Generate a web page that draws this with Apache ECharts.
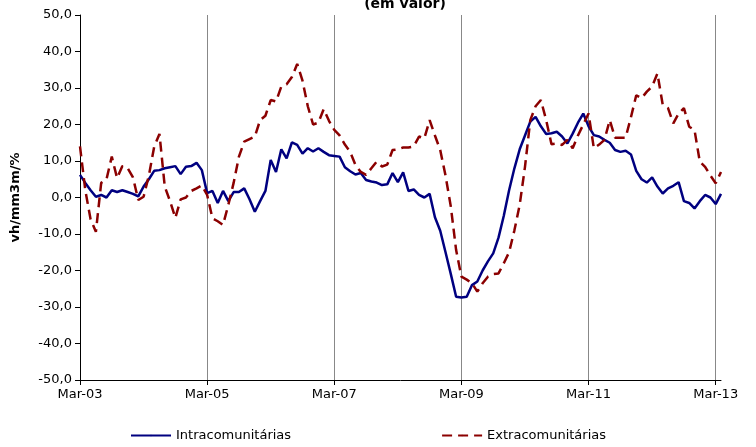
<!DOCTYPE html>
<html><head><meta charset="utf-8">
<script src="https://cdn.jsdelivr.net/npm/echarts@6/dist/echarts.min.js"></script>
<style>html,body{margin:0;padding:0;background:#fff}#c{width:756px;height:447px}</style>
</head><body><div id="c"></div>
<script>
// months Mar-03 .. Apr-13
const months = [];
const mNames = ['Jan','Fev','Mar','Abr','Mai','Jun','Jul','Ago','Set','Out','Nov','Dez'];
for (let i = 0; i < 122; i++) {
  const m = (2 + i) % 12, y = 3 + Math.floor((2 + i) / 12);
  months.push(mNames[m] + '-' + String(y).padStart(2, '0'));
}
const intra = [6.2,4,2,0.2,0.7,0,2,1.5,2,1.5,1,0.3,3,5,7.3,7.5,8,8.3,8.6,6.4,8.4,8.6,9.5,7.5,
  1.2,1.8,-1.5,1.8,-1,1.5,1.5,2.5,-0.5,-3.9,-1,1.8,10.3,7,13.2,10.7,15.1,14.4,12,13.5,12.6,13.5,12.5,11.6,
  11.4,11.2,8.3,7.2,6.3,6.7,4.8,4.4,4.1,3.4,3.6,6.7,4.2,6.9,1.8,2.2,0.7,0,1,-5.4,-9.1,-15,-21,-27.2,
  -27.4,-27.2,-24,-23,-20,-17.5,-15.3,-11,-5,2,8,13.2,17,20.8,22.1,19.5,17.4,17.6,18,16.7,14.8,17.5,20.5,23,
  19.5,17.1,16.7,15.8,15,13,12.5,12.8,11.8,7.3,5,4.1,5.5,3,1.1,2.5,3.2,4.2,-1,-1.5,-3,-1,0.7,0,-1.8,1];
const extra = [14,2,-6,-9.4,4,5,11.2,5.3,8.6,8,5.5,-0.7,0.2,6,13.9,17.4,3,-1,-5.6,-0.5,0,1.8,2.5,3.3,
  0.7,-5.7,-6.5,-7.5,-2,4,11.2,15.3,16,16.7,21.2,22.4,26.7,26.3,30.4,31,33,36.6,32,25,20,20.5,24.2,21,
  18.5,17,14.5,12.5,8.9,7,6.2,8,9.8,8.5,9,13,13.2,13.7,13.7,14,16.7,16.2,21.2,17,13,6,-2.5,-14.4,
  -21.7,-22.5,-23.5,-25.8,-23.5,-21.7,-21,-20.8,-18,-15,-9,-2,8.4,21.2,25,26.7,21.2,14.6,14.8,14.4,15.8,13.5,17,20,
  23,13.5,14.5,15.8,21.2,16.4,16.4,16.4,22,28,27.2,29,30.4,34,25.4,24.5,20.3,23,24.5,19.4,18.5,9.8,8.4,6,3.9,7];

const font = 'DejaVu Sans';
const every24 = (i) => i % 24 === 0;
const chart = echarts.init(document.getElementById('c'));
chart.setOption({
  animation: false,
  title: { text: '(em valor)', left: 400, top: -8, textAlign: 'center',
    textStyle: { fontFamily: font, fontSize: 14, fontWeight: 'bold', color: '#000' } },
  grid: { left: 80, right: 35, top: 15, bottom: 67 },
  legend: { bottom: 0, left: 125, itemGap: 150, itemWidth: 40, itemHeight: 2,
    textStyle: { fontFamily: font, fontSize: 13, color: '#000' },
    data: ['Intracomunitárias', 'Extracomunitárias'] },
  xAxis: { type: 'category', boundaryGap: false, data: months,
    axisLine: { onZero: false, lineStyle: { color: '#000' } },
    axisTick: { interval: every24, length: 5, inside: false, lineStyle: { color: '#000' } },
    axisLabel: { interval: every24, fontFamily: font, fontSize: 13, color: '#000', margin: 8 },
    splitLine: { show: true, interval: every24, lineStyle: { color: '#888', width: 1 } } },
  yAxis: { type: 'value', min: -50, max: 50, interval: 10,
    name: 'vh/mm3m/%', nameLocation: 'middle', nameGap: 58, nameRotate: 90,
    nameTextStyle: { fontFamily: font, fontSize: 13, fontWeight: 'bold', color: '#000' },
    axisLine: { show: true, lineStyle: { color: '#000' } },
    axisTick: { show: true, length: 5, lineStyle: { color: '#000' } },
    axisLabel: { fontFamily: font, fontSize: 13, color: '#000',
      formatter: v => v.toFixed(1).replace('.', ',') },
    splitLine: { show: false } },
  series: [
    { name: 'Intracomunitárias', type: 'line', data: intra, symbol: 'none',
      lineStyle: { color: '#000080', width: 2.5 }, itemStyle: { color: '#000080' } },
    { name: 'Extracomunitárias', type: 'line', data: extra, symbol: 'none',
      lineStyle: { color: '#8b0000', width: 2.5, type: [10, 6] }, itemStyle: { color: '#8b0000' } }
  ]
});
</script></body></html>
